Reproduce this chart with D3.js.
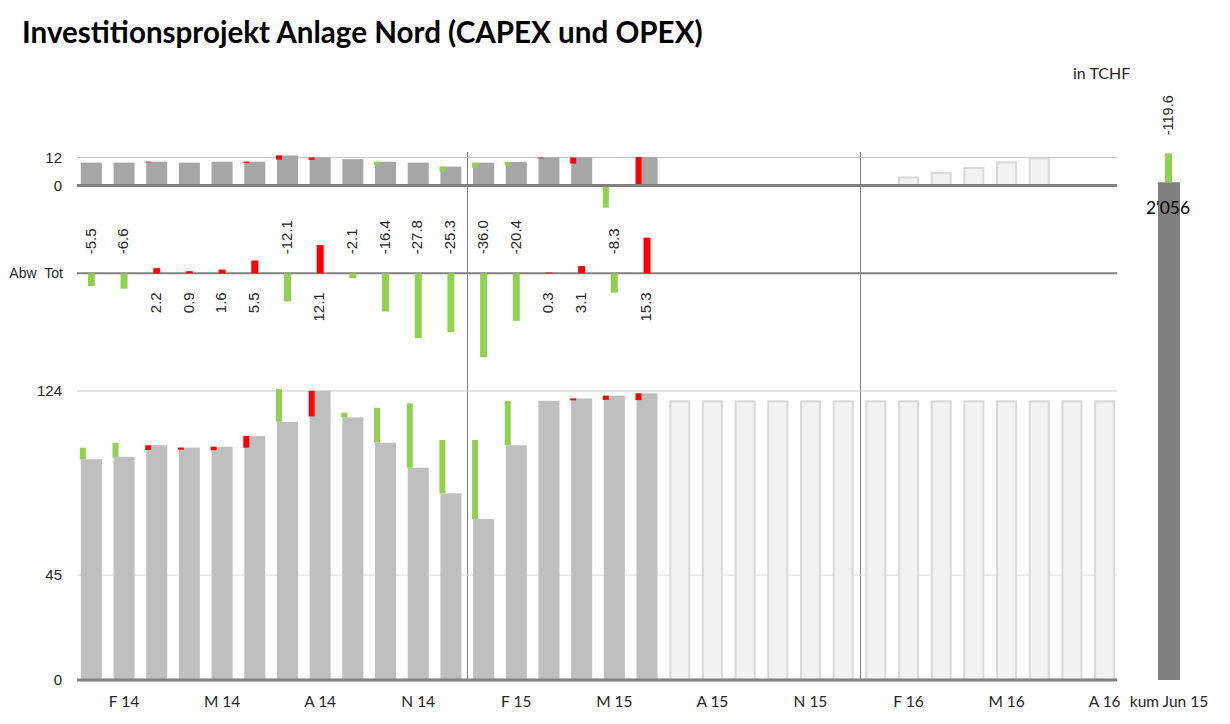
<!DOCTYPE html>
<html lang="de">
<head>
<meta charset="UTF-8">
<title>Investitionsprojekt Anlage Nord</title>
<script src="https://cdn.jsdelivr.net/npm/d3@7"></script>
<style>
  body { margin: 0; background: #fff; }
  svg text { font-family: "Liberation Sans", Arial, sans-serif; fill: #262626; }
  svg text.cal, .cal text { font-family: Lato, "Open Sans", sans-serif; }
  svg text.nar { font-family: "Liberation Sans Narrow", "Arial Narrow", "Liberation Sans", sans-serif; }
  .axis path, .axis line { display: none; }
</style>
</head>
<body>
<svg id="chart" width="1230" height="724"></svg>
<script>
// months Jan 14 .. Aug 16
var monthLabels = ["J 14","F 14","M 14","A 14","M 14","J 14","J 14","A 14","S 14","O 14","N 14","D 14",
                   "J 15","F 15","M 15","A 15","M 15","J 15","J 15","A 15","S 15","O 15","N 15","D 15",
                   "J 16","F 16","M 16","A 16","M 16","J 16","J 16","A 16"];
var actualCount = 18; // actuals until Jun 15

// top panel: monthly values and monthly deviation
var monthActual = [9.8, 9.8, 10.2, 9.8, 10.2, 10.2, 12.9, 12.0, 11.3, 10.2, 9.8, 8.1, 9.8, 10.1, 12.0, 12.0, 0, 12.2];
var monthDev    = [0, 0, 0.3, 0, 0, 0.5, 1.8, 1.0, 0, -1.4, 0, -2.2, -2.2, -1.6, 0.3, 2.6, -9.5, 12.2];
var monthPlan   = [0, 0, 0, 0, 0, 0, 0, 3.9, 5.8, 8.0, 10.4, 12.0, 0, 0]; // Jul 15 .. Aug 16

// middle panel: Abw Tot
var totDev = [-5.5, -6.6, 2.2, 0.9, 1.6, 5.5, -12.1, 12.1, -2.1, -16.4, -27.8, -25.3, -36.0, -20.4, 0.3, 3.1, -8.3, 15.3];

// bottom panel: rolling values and deviation to plan
var rollActual = [94.7, 95.7, 100.7, 99.7, 100.1, 104.7, 110.8, 124.1, 112.7, 101.8, 91.1, 80.1, 69.1, 100.7, 119.8, 120.8, 122.0, 123.0];
var rollDev    = [-5.0, -6.0, 2.0, 0.9, 1.5, 5.0, -14.0, 11.0, -2.0, -15.0, -27.6, -22.9, -33.9, -19.0, 0, 0.8, 1.8, 2.9];
var rollPlan   = [120, 120, 120, 120, 120, 120, 120, 120, 120, 120, 120, 120, 120, 120];

// cumulative
var kumLabel = "kum Jun 15";
var kumValue = 2056;
var kumDev = -119.6;

var GREEN = "#92d050", RED = "#ff0000";
var svg = d3.select("#chart");
function fmt(v) { return v.toFixed(1); }

var x = d3.scaleBand().domain(d3.range(monthLabels.length))
    .range([75, 1121]).paddingInner(0.357).paddingOuter(0.1785);
var bw = x.bandwidth();
var k = 289 / 124; // px per TCHF, shared by all three panels
var yTop = d3.scaleLinear().domain([0, 12]).range([185.5, 185.5 - 12 * k]);
var yMid = d3.scaleLinear().domain([0, 10]).range([273.3, 273.3 - 10 * k]);
var yBot = d3.scaleLinear().domain([0, 124]).range([680, 680 - 124 * k]);
var xk = d3.scaleBand().domain([kumLabel]).range([1147, 1191]).paddingOuter(0.5);
var yKum = d3.scaleLinear().domain([0, kumValue - kumDev]).range([680, 153.3]);

var gx0 = 77, gx1 = 1117;
function hline(y, color, w) {
  svg.append("line").attr("x1", gx0).attr("x2", gx1).attr("y1", y).attr("y2", y)
    .attr("stroke", color).attr("stroke-width", w);
}
function span(a, b, s) { return { y: s(Math.max(a, b)), h: Math.abs(s(a) - s(b)) }; }

// title
var title = svg.append("text").attr("class", "cal").attr("x", 22).attr("y", 43)
  .style("font-weight", 700).style("font-size", "28px").style("fill", "#000")
  .text("Investitionsprojekt Anlage Nord (CAPEX und OPEX)");
var tw = title.node().getComputedTextLength();
title.style("font-size", (28 * 681 / tw) + "px");

svg.append("text").attr("class", "cal").attr("x", 1073).attr("y", 79)
  .style("font-size", "16px").text("in TCHF");

// separators between years
[12, 24].forEach(function (i) {
  var sx = Math.round(x(i) - x.step() * x.paddingInner() / 2) + 0.5;
  svg.append("line").attr("x1", sx).attr("x2", sx).attr("y1", 152).attr("y2", 680)
    .attr("stroke", "#808080").attr("stroke-width", 1);
});

// ---------- top panel ----------
hline(yTop(12), "#c4c4c4", 1);
var planIdx = monthPlan.map(function (v, j) { return { i: j + actualCount, v: v }; })
  .filter(function (d) { return d.v > 0; });
svg.append("g").selectAll("rect").data(planIdx).join("rect")
  .attr("x", function (d) { return x(d.i) + 1; }).attr("width", bw - 2)
  .attr("y", function (d) { return yTop(d.v) + 1; })
  .attr("height", function (d) { return yTop(0) - yTop(d.v) - 1; })
  .attr("fill", "#f2f2f2").attr("stroke", "#d9d9d9").attr("stroke-width", 2);
svg.append("g").selectAll("rect").data(monthActual).join("rect")
  .attr("x", function (d, i) { return x(i); }).attr("width", bw)
  .attr("y", function (d) { return yTop(Math.max(0, d)); })
  .attr("height", function (d) { return yTop(0) - yTop(Math.max(0, d)); })
  .attr("fill", "#a6a6a6");
svg.append("g").selectAll("rect").data(monthDev).join("rect")
  .attr("x", function (d, i) { return x(i) - 1; }).attr("width", 6)
  .attr("y", function (d, i) { return span(monthActual[i] - Math.abs(d), monthActual[i], yTop).y; })
  .attr("height", function (d, i) { return span(monthActual[i] - Math.abs(d), monthActual[i], yTop).h; })
  .attr("fill", function (d) { return d > 0 ? RED : GREEN; });
hline(yTop(0), "#808080", 3);
svg.append("g").attr("class", "axis").attr("transform", "translate(" + gx0 + ",0)")
  .call(d3.axisLeft(yTop).tickValues([0, 12]).tickSize(0).tickPadding(15))
  .call(function (g) { g.selectAll("text").style("font-size", "15px").attr("font-family", null); });

// ---------- middle panel ----------
hline(yMid(0), "#808080", 2);
svg.append("text").attr("x", 63).attr("y", yMid(0)).attr("dy", "0.35em")
  .attr("text-anchor", "end").style("font-size", "14px").text("Abw\u00a0\u00a0Tot");
svg.append("g").selectAll("rect").data(totDev).join("rect")
  .attr("x", function (d, i) { return x(i) + bw / 2 - 3.5; }).attr("width", 7)
  .attr("y", function (d) { return span(0, d, yMid).y; })
  .attr("height", function (d) { return span(0, d, yMid).h; })
  .attr("fill", function (d) { return d > 0 ? RED : GREEN; });
svg.append("g").selectAll("text").data(totDev).join("text")
  .attr("class", "nar")
  .attr("transform", function (d, i) {
    var ty = d < 0 ? yMid(0) - 19 : yMid(0) + 19;
    return "translate(" + (x(i) + bw / 2 - 1) + "," + ty + ") rotate(-90)";
  })
  .attr("text-anchor", function (d) { return d < 0 ? "start" : "end"; })
  .attr("dy", "0.35em").style("font-size", "15px")
  .text(function (d) { return fmt(d); });

// ---------- bottom panel ----------
hline(yBot(124), "#c8c8c8", 1);
hline(yBot(45), "#dcdcdc", 1);
svg.append("g").selectAll("rect").data(rollPlan).join("rect")
  .attr("x", function (d, j) { return x(j + actualCount) + 1; }).attr("width", bw - 2)
  .attr("y", function (d) { return yBot(d) + 1; })
  .attr("height", function (d) { return yBot(0) - yBot(d) - 1; })
  .attr("fill", "#f2f2f2").attr("stroke", "#d9d9d9").attr("stroke-width", 2);
svg.append("g").selectAll("rect").data(rollActual).join("rect")
  .attr("x", function (d, i) { return x(i); }).attr("width", bw)
  .attr("y", function (d) { return yBot(d); })
  .attr("height", function (d) { return yBot(0) - yBot(d); })
  .attr("fill", "#bfbfbf");
svg.append("g").selectAll("rect").data(rollDev).join("rect")
  .attr("x", function (d, i) { return x(i) - 1; }).attr("width", 6)
  .attr("y", function (d, i) { return span(rollActual[i], rollActual[i] - d, yBot).y; })
  .attr("height", function (d, i) { return span(rollActual[i], rollActual[i] - d, yBot).h; })
  .attr("fill", function (d) { return d > 0 ? RED : GREEN; });
hline(yBot(0), "#808080", 3);
svg.append("g").attr("class", "axis").attr("transform", "translate(" + gx0 + ",0)")
  .call(d3.axisLeft(yBot).tickValues([0, 45, 124]).tickSize(0).tickPadding(15))
  .call(function (g) { g.selectAll("text").style("font-size", "15px").attr("font-family", null); });

// x axis
svg.append("g").attr("class", "axis cal").attr("transform", "translate(0," + yBot(0) + ")")
  .call(d3.axisBottom(x).tickSize(0).tickPadding(16)
    .tickValues(x.domain().filter(function (i) { return i % 3 === 1; }))
    .tickFormat(function (i) { return monthLabels[i]; }))
  .call(function (g) { g.selectAll("text").style("font-size", "15.5px").attr("font-family", null); });

// ---------- cumulative bar ----------
svg.append("rect").attr("x", xk(kumLabel)).attr("width", xk.bandwidth())
  .attr("y", yKum(kumValue)).attr("height", yKum(0) - yKum(kumValue)).attr("fill", "#7f7f7f");
svg.append("rect").attr("x", xk(kumLabel) + xk.bandwidth() / 2 - 4).attr("width", 7)
  .attr("y", yKum(kumValue - kumDev)).attr("height", yKum(kumValue) - yKum(kumValue - kumDev))
  .attr("fill", kumDev > 0 ? RED : GREEN);
svg.append("text").attr("transform", "translate(" + (xk(kumLabel) + xk.bandwidth() / 2 - 1) + "," +
    (yKum(kumValue - kumDev) - 18) + ") rotate(-90)")
  .attr("dy", "0.35em").style("font-size", "14.5px").text(fmt(kumDev));
svg.append("text").attr("class", "cal").attr("x", xk(kumLabel) + xk.bandwidth() / 2 - 1)
  .attr("y", yKum(kumValue) + 32).attr("text-anchor", "middle")
  .style("font-size", "17.5px").style("fill", "#000").text("2'056");
svg.append("g").attr("class", "axis cal").attr("transform", "translate(0," + yBot(0) + ")")
  .call(d3.axisBottom(xk).tickSize(0).tickPadding(16))
  .call(function (g) { g.selectAll("text").style("font-size", "15.5px").attr("font-family", null); });
</script>
</body>
</html>
